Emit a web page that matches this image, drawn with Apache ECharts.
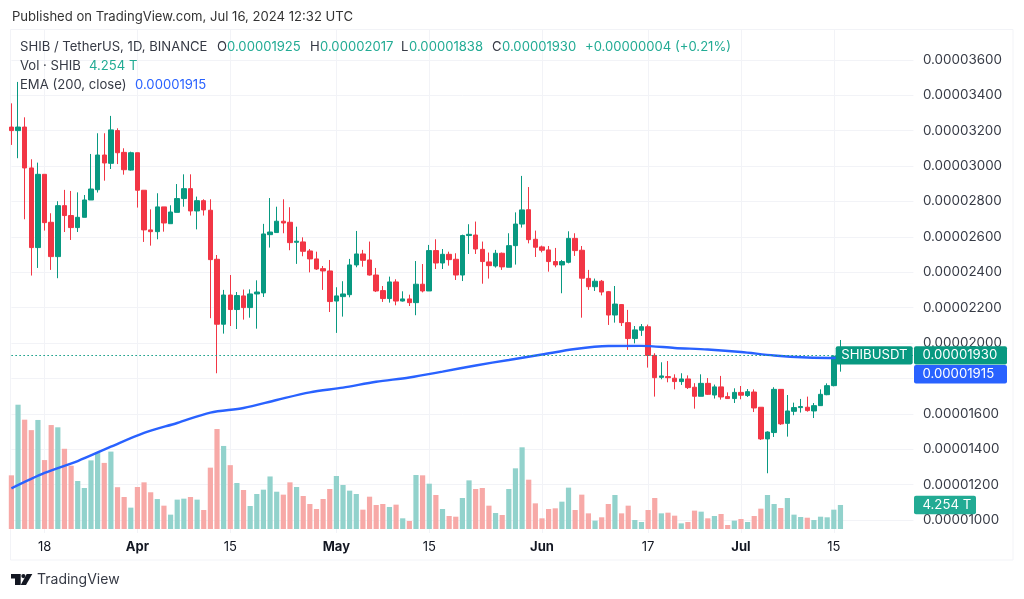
<!DOCTYPE html>
<html>
<head>
<meta charset="utf-8">
<style>
  html, body { margin: 0; padding: 0; background: #fff; }
  #chart { width: 1024px; height: 599px; }
</style>
<script src="https://cdn.jsdelivr.net/npm/echarts@6/dist/echarts.min.js"></script>
</head>
<body>
<div id="chart"></div>
<script>
// prices are in units of 0.00000001 USDT, volume in trillions of SHIB
const opens = [
  3220,3200,3220,2989,2539,2953,2682,2488,2776,2720,
  2652,2710,2808,2866,3062,3015,3200,3077,2977,3075,
  2863,2639,2629,2769,2674,2738,2816,2872,2746,2804,
  2750,2473,2106,2271,2189,2266,2200,2277,2283,2612,
  2624,2688,2682,2569,2571,2520,2475,2420,2407,2237,
  2262,2273,2441,2503,2469,2384,2296,2251,2345,2237,
  2249,2228,2332,2294,2522,2452,2501,2473,2384,2607,
  2610,2529,2458,2435,2507,2428,2550,2672,2753,2586,
  2543,2526,2460,2441,2456,2591,2524,2365,2318,2349,
  2290,2158,2217,2115,2025,2072,2092,1930,1806,1810,
  1801,1782,1797,1750,1699,1772,1706,1752,1697,1686,
  1721,1703,1723,1637,1458,1494,1738,1546,1614,1635,
  1637,1616,1646,1708,1759,1925
];
const closes = [
  3200,3220,2989,2539,2953,2680,2488,2776,2720,2652,
  2710,2808,2870,3062,3017,3204,3075,2979,3075,2863,
  2639,2629,2769,2678,2740,2816,2872,2746,2804,2752,
  2471,2106,2271,2189,2268,2200,2277,2288,2616,2627,
  2688,2678,2567,2575,2518,2475,2418,2407,2234,2266,
  2277,2441,2503,2467,2384,2294,2251,2345,2237,2249,
  2228,2332,2294,2522,2452,2501,2471,2384,2607,2614,
  2531,2460,2437,2507,2430,2550,2672,2752,2584,2541,
  2524,2460,2441,2460,2591,2522,2366,2318,2349,2288,
  2158,2220,2115,2025,2074,2092,1930,1804,1814,1804,
  1782,1797,1748,1699,1772,1710,1752,1695,1686,1721,
  1705,1725,1633,1458,1497,1738,1543,1616,1635,1641,
  1618,1646,1710,1759,1925,1930
];
const highs = [
  3354,3475,3275,3038,3019,2953,2733,2801,2865,2859,
  2851,2836,3068,3185,3185,3283,3213,3100,3081,3075,
  2863,2755,2846,2769,2778,2898,2953,2953,2827,2812,
  2812,2497,2300,2384,2288,2302,2303,2354,2673,2819,
  2770,2812,2767,2657,2597,2531,2516,2435,2469,2315,
  2349,2475,2633,2526,2573,2424,2322,2375,2360,2292,
  2273,2463,2446,2554,2586,2531,2516,2507,2612,2671,
  2686,2573,2511,2526,2511,2620,2738,2944,2881,2635,
  2550,2548,2537,2469,2631,2620,2548,2413,2364,2356,
  2294,2322,2220,2187,2096,2107,2104,1942,1891,1898,
  1823,1829,1817,1773,1823,1802,1765,1814,1721,1744,
  1757,1740,1738,1637,1501,1750,1740,1706,1663,1684,
  1697,1661,1738,1772,1930,2017
];
const lows = [
  3119,3044,2699,2381,2424,2635,2413,2366,2627,2582,
  2627,2710,2808,2850,2917,2983,3011,2951,2974,2765,
  2571,2550,2586,2629,2674,2738,2770,2720,2642,2720,
  2140,1829,2053,2096,2079,2132,2143,2081,2260,2539,
  2624,2620,2524,2447,2490,2399,2413,2300,2175,2057,
  2149,2258,2428,2431,2381,2288,2232,2228,2213,2234,
  2209,2157,2286,2294,2418,2418,2437,2356,2350,2503,
  2503,2335,2364,2426,2413,2428,2443,2652,2563,2486,
  2512,2403,2428,2281,2450,2492,2143,2300,2294,2269,
  2102,2115,2096,1961,1998,2040,1861,1697,1795,1778,
  1738,1763,1740,1629,1699,1706,1686,1680,1684,1661,
  1682,1695,1610,1452,1264,1469,1537,1471,1592,1607,
  1612,1576,1644,1705,1755,1838
];
const volumes = [
  9.5,22.0,19.35,17.5,19.3,12.2,18.4,18.0,14.2,11.2,
  8.5,7.26,12.15,13.6,11.7,13.7,7.4,5.66,3.78,7.43,
  8.26,6.5,5.3,4.13,2.54,5.2,5.37,5.66,5.2,3.36,
  10.86,17.7,14.7,11.3,8.14,6.9,4.07,6.2,6.96,9.3,
  6.6,6.08,8.26,7.43,5.84,4.43,3.54,5.31,7.08,9.38,
  7.79,6.79,6.2,3.42,5.72,4.25,4.43,3.9,4.31,1.89,
  1.42,9.56,9.5,8.02,6.02,3.54,2.3,2.18,5.49,8.61,
  7.08,7.26,4.13,2.83,2.48,7.08,10.74,14.46,8.73,4.54,
  1.89,3.54,3.66,4.84,7.32,3.36,6.08,2.77,1.48,2.07,
  4.43,6.02,2.77,4.13,1.59,1.24,3.36,5.49,2.77,2.89,
  2.36,1.0,1.24,3.25,3.07,1.89,2.3,2.66,0.71,1.48,
  1.77,1.24,2.3,3.6,6.02,4.43,3.72,5.49,2.54,2.12,
  2.0,1.59,2.18,2.07,3.42,4.254
];
// EMA every fifth day
const emaDays = [0,5,10,15,20,25,30,35,40,45,50,55,60,65,70,75,80,85,90,95,100,105,110,115,120,125];
const emaValues = [1179,1266,1333,1414,1492,1548,1607,1633,1678,1721,1748,1781,1805,1838,1873,1904,1935,1966,1983,1984,1972,1963,1949,1929,1918,1915];

const priceTicks = [1000,1200,1400,1600,1800,2000,2200,2400,2600,2800,3000,3200,3400,3600];
const timeTickDates = ['2024-03-18','2024-04-01','2024-04-15','2024-05-01','2024-05-15','2024-06-01','2024-06-17','2024-07-01','2024-07-15'];
const timeTickLabels = ['18','Apr','15','May','15','Jun','17','Jul','15'];

const lastClose = 1930;
const lastEma = 1915;
const lastVolume = 4.254;

const GREEN = '#089981', RED = '#f23645', BLUE = '#2962ff', TEAL = '#22ab94';
const GRID = '#f2f3f7', FONT = 'Inter';

// daily categories from 13 Mar, running on into the empty space right of the last candle
let categories = [];
for (let i = 0; i < 137; i++) {
  categories.push(new Date(Date.UTC(2024, 2, 13 + i)).toISOString().slice(0, 10));
}
const isTimeTick = (index) => timeTickDates.indexOf(categories[index]) >= 0;
const priceText = (v) => (v * 1e-8).toFixed(8);

const chart = echarts.init(document.getElementById('chart'), null, { renderer: 'canvas' });

const option = {
  animation: false,
  backgroundColor: '#fff',
  textStyle: { fontFamily: FONT },
  grid: { left: 11.4, top: 29, width: 902, height: 504, containLabel: false, show: false },
  xAxis: {
    type: 'category',
    data: categories,
    boundaryGap: false,
    min: 0,
    max: 135.53,
    axisLine: { show: false },
    axisTick: { show: false },
    splitLine: { show: true, interval: (i) => isTimeTick(i), lineStyle: { color: GRID, width: 1 } },
    axisLabel: {
      interval: (i) => isTimeTick(i),
      margin: 8,
      color: '#131722',
      fontSize: 13,
      fontFamily: FONT,
      formatter: (v) => {
        const label = timeTickLabels[timeTickDates.indexOf(v)];
        return /\d/.test(label) ? label : '{month|' + label + '}';
      },
      rich: { month: { fontWeight: 'bold', fontSize: 13, color: '#131722', fontFamily: FONT } }
    }
  },
  yAxis: [
    {
      type: 'value',
      position: 'right',
      min: 926.5,
      max: 3774,
      scale: true,
      axisLine: { show: false },
      axisTick: { show: false, customValues: priceTicks },
      splitLine: { show: true, lineStyle: { color: GRID, width: 1 } },
      axisLabel: {
        customValues: priceTicks,
        margin: 9.6,
        color: '#363a45',
        fontSize: 13.4,
        fontFamily: FONT,
        formatter: priceText
      }
    },
    { type: 'value', show: false, min: -0.708, max: 88.5, splitLine: { show: false } }
  ],
  series: [
    {
      name: 'Vol',
      type: 'bar',
      yAxisIndex: 1,
      barWidth: 5.2,
      silent: true,
      data: volumes.map((v, i) => ({
        value: v,
        itemStyle: { color: closes[i] >= opens[i] ? '#92d2cc' : '#f7a9a7' }
      }))
    },
    {
      name: 'SHIBUSDT',
      type: 'candlestick',
      yAxisIndex: 0,
      barWidth: 5,
      silent: true,
      itemStyle: { color: GREEN, color0: RED, borderColor: GREEN, borderColor0: RED, borderWidth: 1 },
      data: opens.map((o, i) => [o, closes[i], lows[i], highs[i]]),
      markLine: {
        silent: true,
        symbol: 'none',
        label: { show: false },
        lineStyle: { color: GREEN, type: [1.5, 2.5], width: 1 },
        data: [{ yAxis: lastClose }]
      }
    },
    {
      name: 'EMA (200, close)',
      type: 'line',
      yAxisIndex: 0,
      showSymbol: false,
      symbol: 'none',
      smooth: 0.3,
      silent: true,
      lineStyle: { color: BLUE, width: 2.4 },
      data: emaDays.map((d, i) => [categories[d], emaValues[i]])
    }
  ]
};
chart.setOption(option);

function text(x, y, str, color, extra) {
  return {
    type: 'text', z: 20, x: x, y: y, silent: true,
    style: Object.assign({ text: str, fill: color, font: '13.1px ' + FONT, verticalAlign: 'middle' }, extra || {})
  };
}
function tag(x, y, w, h, color, label, pad) {
  return [
    { type: 'rect', z: 15, silent: true, shape: { x: x, y: y, width: w, height: h, r: 2 }, style: { fill: color } },
    text(x + (pad || 8.5), y + h / 2, label, '#fff', { font: '13.2px ' + FONT })
  ];
}

// everything outside the plot: header, legend lines, frame, price tags, logo
const closeY = chart.convertToPixel({ yAxisIndex: 0 }, lastClose);
const volY = chart.convertToPixel({ yAxisIndex: 1 }, lastVolume);
const DARK = '#363a45';

let elements = [
  { type: 'rect', z: -1, silent: true, shape: { x: 10.5, y: 29.5, width: 1002.5, height: 530.5 }, style: { fill: 'none', stroke: GRID, lineWidth: 1 } },
  text(12, 17, 'Published on TradingView.com, Jul 16, 2024 12:32 UTC', '#333'),
  text(20, 47, 'SHIB / TetherUS, 1D, BINANCE', DARK),
  text(217, 47, 'O', DARK), text(227, 47, '0.00001925', TEAL),
  text(310, 47, 'H', DARK), text(320, 47, '0.00002017', TEAL),
  text(401, 47, 'L', DARK), text(409, 47, '0.00001838', TEAL),
  text(492, 47, 'C', DARK), text(502, 47, '0.00001930', TEAL),
  text(585, 47, '+0.00000004 (+0.21%)', TEAL),
  text(20, 66, 'Vol \u00b7 SHIB', DARK), text(89, 66, '4.254 T', TEAL),
  text(20, 85, 'EMA (200, close)', DARK), text(135, 85, priceText(lastEma), BLUE),
  { type: 'polygon', z: 20, silent: true, shape: { points: [[11,574],[20.7,574],[20.7,585],[15,585],[15,578.4],[11,578.4]] }, style: { fill: '#131722' } },
  { type: 'polygon', z: 20, silent: true, shape: { points: [[26.7,574],[32.3,574],[26,585],[20.7,585]] }, style: { fill: '#131722' } },
  { type: 'circle', z: 20, silent: true, shape: { cx: 23.4, cy: 576.1, r: 2.1 }, style: { fill: '#131722' } },
  text(37, 580, 'TradingView', '#363a45', { font: '14px ' + FONT })
];
elements = elements
  .concat(tag(835.7, closeY - 9.2, 77, 18.4, GREEN, 'SHIBUSDT', 5.5))
  .concat(tag(914, closeY - 9.2, 93, 18.4, GREEN, priceText(lastClose)))
  .concat(tag(914, closeY + 9.6, 93, 18.4, BLUE, priceText(lastEma)))
  .concat(tag(914, volY - 9.2, 62, 18.4, TEAL, lastVolume + ' T'));

chart.setOption({ graphic: { elements: elements } });
</script>
</body>
</html>
